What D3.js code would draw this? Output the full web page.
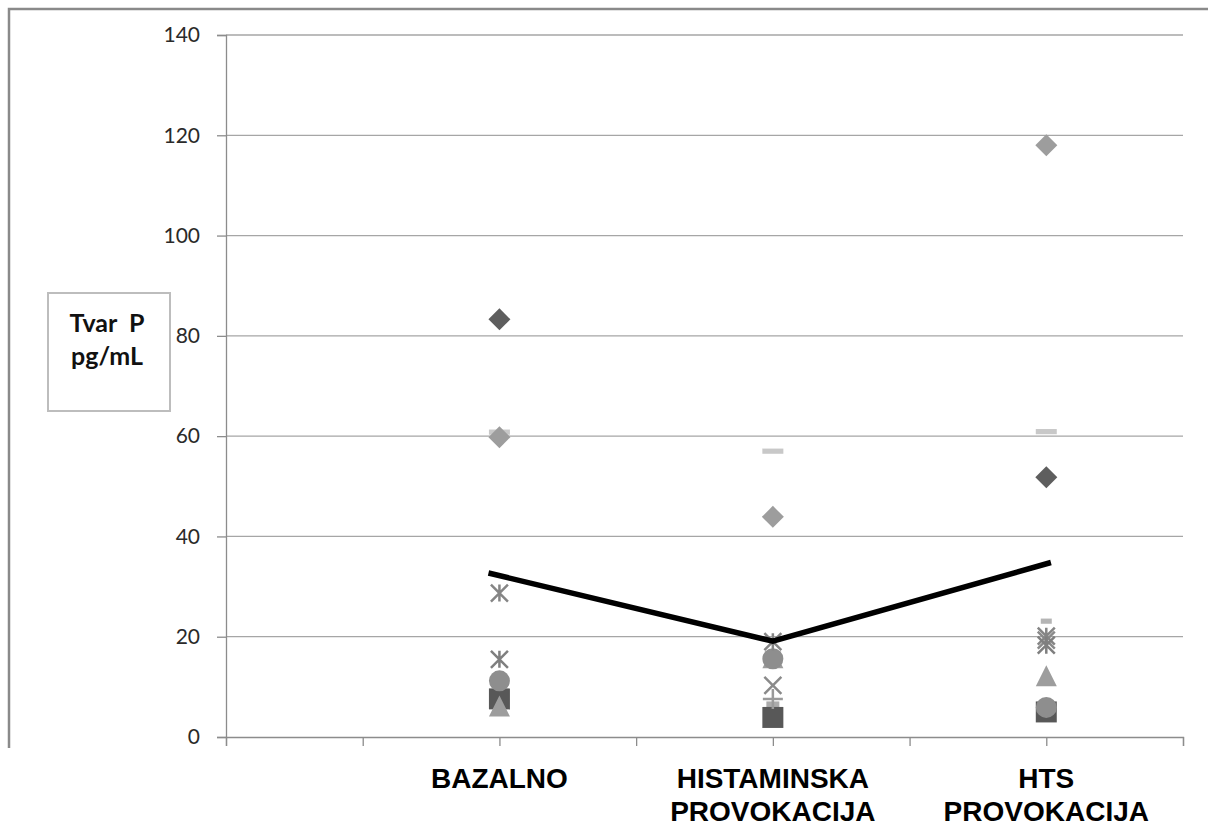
<!DOCTYPE html>
<html>
<head>
<meta charset="utf-8">
<script src="https://cdn.jsdelivr.net/npm/d3@7"></script>
<style>
  html, body { margin: 0; padding: 0; background: #fff; }
  svg { display: block; }
</style>
</head>
<body>
<svg id="chart" width="1208" height="827"></svg>
<script>
// ---- Data ----
const categories = [["BAZALNO"], ["HISTAMINSKA", "PROVOKACIJA"], ["HTS", "PROVOKACIJA"]];
const categoryX = [1, 2, 3];
const yTicks = [0, 20, 40, 60, 80, 100, 120, 140];
const xTicks = [0, 0.5, 1, 1.5, 2, 2.5, 3, 3.5];

const squareLight  = [8.0, 5.8, null];
const squareDark   = [7.6, 3.9, 5.0];
const triangle     = [6.2, 15.8, 12.2];
const circle       = [11.2, 15.6, 5.9];
const plusMark     = [null, 7.6, null];
const xMark        = [null, 10.3, 19.3];
const starA        = [28.7, 19.0, 20.1];
const starB        = [15.5, null, 18.3];
const dashSmall    = [null, null, 23.1];
const dashLight    = [60.8, 57.0, 60.9];
const diamondLight = [59.8, 43.9, 118.0];
const diamondDark  = [83.3, null, 51.8];

const meanLineX = [0.96, 2, 3.017];
const meanLineY = [32.7, 19.1, 34.8];

const yLabelLines = ["Tvar  P", "pg/mL"];

// ---- Layout ----
const svg = d3.select("#chart");
const x = d3.scaleLinear().domain([0, 3.5]).range([226, 1183]);
const y = d3.scaleLinear().domain([0, 140]).range([737, 35]);

// outer chart border (top + left visible)
svg.append("path")
  .attr("d", "M9,748 L9,9 L1208,9")
  .attr("fill", "none").attr("stroke", "#8a8a8a").attr("stroke-width", 2.5);

// gridlines
svg.append("g").selectAll("line").data(yTicks.filter(d => d > 0)).join("line")
  .attr("x1", x(0)).attr("x2", x(3.5))
  .attr("y1", d => y(d)).attr("y2", d => y(d))
  .attr("stroke", "#a6a6a6").attr("stroke-width", 1.3);

// y axis
const yAxis = d3.axisLeft(y).tickValues(yTicks).tickSize(9).tickPadding(17).tickFormat(d3.format("d"));
const gy = svg.append("g").attr("transform", `translate(${x(0)},0)`).call(yAxis);
gy.select(".domain").attr("stroke", "#8c8c8c").attr("stroke-width", 1.3);
gy.selectAll(".tick line").attr("stroke", "#8c8c8c").attr("stroke-width", 1.3);
gy.selectAll(".tick text")
  .attr("font-family", "Lato, 'Open Sans', sans-serif")
  .attr("font-size", 21).attr("fill", "#2a2a2a");

// x axis
const xAxis = d3.axisBottom(x).tickValues(xTicks).tickSize(9).tickFormat("");
const gx = svg.append("g").attr("transform", `translate(0,${y(0)})`).call(xAxis);
gx.select(".domain").attr("stroke", "#8c8c8c").attr("stroke-width", 1.3);
gx.selectAll(".tick line").attr("stroke", "#8c8c8c").attr("stroke-width", 1.3);

// category labels
categories.forEach((lines, i) => {
  const t = svg.append("text")
    .attr("x", x(categoryX[i]))
    .attr("text-anchor", "middle")
    .attr("font-family", "'Liberation Sans', Arial, sans-serif")
    .attr("font-weight", "bold")
    .attr("font-size", 28)
    .attr("fill", "#000");
  lines.forEach((ln, j) => {
    t.append("tspan").attr("x", x(categoryX[i])).attr("y", 788 + j * 33).text(ln);
  });
});

// y label box
svg.append("rect").attr("x", 48).attr("y", 293).attr("width", 122).attr("height", 118)
  .attr("fill", "#fff").attr("stroke", "#bdbdbd").attr("stroke-width", 2);
const yl = svg.append("text")
  .attr("text-anchor", "middle")
  .attr("font-family", "Lato, 'Open Sans', sans-serif")
  .attr("font-weight", "bold").attr("font-size", 25).attr("fill", "#111")
  .attr("xml:space", "preserve").style("white-space", "pre");
yLabelLines.forEach((ln, j) => {
  yl.append("tspan").attr("x", 107).attr("y", 332 + j * 33).text(ln);
});

// ---- Marker shapes ----
function shapePath(kind, s) {
  const h = s / 2;
  switch (kind) {
    case "diamond": return `M0,${-h}L${h},0L0,${h}L${-h},0Z`;
    case "square": return `M${-h},${-h}H${h}V${h}H${-h}Z`;
    case "triangle": return `M0,${-h}L${h},${h}H${-h}Z`;
    case "dash": return `M${-h},-2.6H${h}V2.6H${-h}Z`;
    case "x": return `M${-h},${-h}L${h},${h}M${h},${-h}L${-h},${h}`;
    case "plus": return `M0,${-h}V${h}M${-h},0H${h}`;
    case "star": return `M${-h},${-h}L${h},${h}M${h},${-h}L${-h},${h}M0,${-h}V${h}`;
  }
}

const seriesList = [
  { values: squareLight,  kind: "square",   size: 13, color: "#ababab" },
  { values: squareDark,   kind: "square",   size: 21, color: "#585858" },
  { values: triangle,     kind: "triangle", size: 21, color: "#9d9d9d" },
  { values: circle,       kind: "circle",   size: 21, color: "#8e8e8e" },
  { values: plusMark,     kind: "plus",     size: 20, color: "#9a9a9a" },
  { values: xMark,        kind: "x",        size: 17, color: "#8a8a8a" },
  { values: starA,        kind: "star",     size: 17, color: "#858585" },
  { values: starB,        kind: "star",     size: 17, color: "#7f7f7f" },
  { values: dashSmall,    kind: "dash",     size: 11, color: "#b5b5b5" },
  { values: dashLight,    kind: "dash",     size: 21, color: "#c8c8c8" },
  { values: diamondLight, kind: "diamond",  size: 22, color: "#9d9d9d" },
  { values: diamondDark,  kind: "diamond",  size: 22, color: "#5e5e5e" }
];

const marks = svg.append("g");
seriesList.forEach(s => {
  const pts = s.values.map((v, i) => ({ x: categoryX[i], v })).filter(p => p.v !== null);
  const g = marks.append("g");
  if (s.kind === "circle") {
    g.selectAll("circle").data(pts).join("circle")
      .attr("cx", d => x(d.x)).attr("cy", d => y(d.v)).attr("r", s.size / 2)
      .attr("fill", s.color);
  } else {
    const stroked = ["x", "plus", "star"].includes(s.kind);
    g.selectAll("path").data(pts).join("path")
      .attr("transform", d => `translate(${x(d.x)},${y(d.v)})`)
      .attr("d", shapePath(s.kind, s.size))
      .attr("fill", stroked ? "none" : s.color)
      .attr("stroke", stroked ? s.color : "none")
      .attr("stroke-width", stroked ? 2.5 : 0);
  }
});

// mean line
const lineData = meanLineX.map((v, i) => [v, meanLineY[i]]);
svg.append("path")
  .datum(lineData)
  .attr("d", d3.line().x(d => x(d[0])).y(d => y(d[1])))
  .attr("fill", "none").attr("stroke", "#000").attr("stroke-width", 5.5);
</script>
</body>
</html>
